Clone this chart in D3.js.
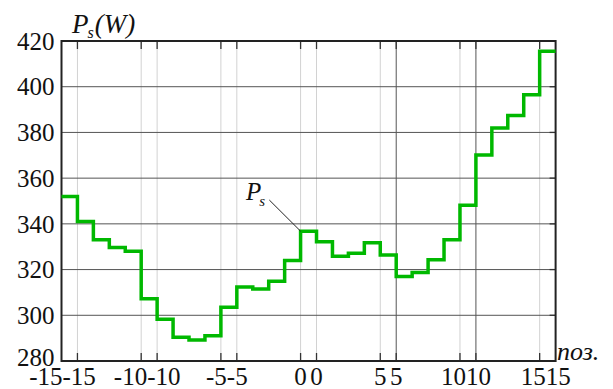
<!DOCTYPE html>
<html>
<head>
<meta charset="utf-8">
<script src="https://cdn.jsdelivr.net/npm/d3@7"></script>
<style>
  body { margin: 0; background: #fff; }
</style>
</head>
<body>
<svg id="chart" width="613" height="389"></svg>
<script>
// positions along the track and the stepped power values
const positions = [-15, -14, -13, -12, -11, -10, -9, -8, -7, -6, -5, -4, -3, -2, -1,
  0, 1, 2, 3, 4, 5, 6, 7, 8, 9, 10, 11, 12, 13, 14, 15]
const power = [352, 341, 333, 329.7, 328, 307.2, 298.3, 290.4, 289.2, 291, 303.5,
  312.4, 311.5, 314.9, 324, 336.8, 332.2, 325.8, 327.1, 331.7, 326.4, 317, 318.7,
  324.3, 333, 348.1, 370.1, 381.9, 387.4, 396.5, 415.5]
const xTicks = [-15, -10, -5, 0, 5, 10, 15]
const yTicks = [280, 300, 320, 340, 360, 380, 400, 420]

const FONT = "'Liberation Serif', 'DejaVu Serif', 'Times New Roman', serif"

const margin = { top: 41, right: 57.4, bottom: 28, left: 61.5 }
const W = 613, H = 389
const width = W - margin.left - margin.right
const height = H - margin.top - margin.bottom

const svg = d3.select('#chart')
const g = svg.append('g')
  .attr('transform', 'translate(' + margin.left + ',' + margin.top + ')')

// two overlaid x axes, one unit apart (light grid / dark grid)
const xL = d3.scaleLinear().domain([-15, 16]).range([0, width])
const xD = d3.scaleLinear().domain([-16, 15]).range([0, width])
const y = d3.scaleLinear().domain([280, 420]).range([height, 0])

// vertical grid
const vLines = []
xTicks.forEach(t => {
  vLines.push({ x: xL(t), dark: false })
  vLines.push({ x: xD(t), dark: t === 5 || t === 10 })
})
const inner = vLines.filter(d => d.x > 1 && d.x < width - 1)
g.selectAll('.vgrid')
  .data(inner)
  .enter().append('line')
  .attr('x1', d => d.x).attr('x2', d => d.x)
  .attr('y1', 0).attr('y2', height)
  .attr('stroke', d => d.dark ? '#555' : '#d2d2d2')
  .attr('stroke-width', 1)

// horizontal grid
g.selectAll('.hgrid')
  .data(yTicks.slice(1, -1))
  .enter().append('line')
  .attr('x1', 0).attr('x2', width)
  .attr('y1', d => y(d)).attr('y2', d => y(d))
  .attr('stroke', '#555')
  .attr('stroke-width', 1)

// small ticks on top / bottom / right edges
g.selectAll('.ttop')
  .data(inner)
  .enter().append('line')
  .attr('x1', d => d.x).attr('x2', d => d.x)
  .attr('y1', 0).attr('y2', 8)
  .attr('stroke', '#333').attr('stroke-width', 1.3)
g.selectAll('.tbot')
  .data(inner)
  .enter().append('line')
  .attr('x1', d => d.x).attr('x2', d => d.x)
  .attr('y1', height - 8).attr('y2', height)
  .attr('stroke', '#333').attr('stroke-width', 1.3)
g.selectAll('.tright')
  .data(yTicks.slice(1, -1))
  .enter().append('line')
  .attr('x1', width - 6).attr('x2', width)
  .attr('y1', d => y(d)).attr('y2', d => y(d))
  .attr('stroke', '#333').attr('stroke-width', 1.3)

// frame
g.append('rect')
  .attr('x', 0).attr('y', 0)
  .attr('width', width).attr('height', height)
  .attr('fill', 'none')
  .attr('stroke', '#222')
  .attr('stroke-width', 2)

// stepped line
const stepData = positions.map((p, i) => [p, power[i]])
stepData.push([positions[positions.length - 1] + 1, power[power.length - 1]])
const line = d3.line()
  .x(d => xL(d[0]))
  .y(d => y(d[1]))
  .curve(d3.curveStepAfter)
g.append('path')
  .datum(stepData)
  .attr('d', line)
  .attr('fill', 'none')
  .attr('stroke', '#00b800')
  .attr('stroke-width', 3.5)

// y labels
g.selectAll('.ylab')
  .data(yTicks)
  .enter().append('text')
  .attr('font-family', FONT)
  .attr('fill', '#111')
  .attr('x', -7)
  .attr('y', d => y(d) + (d === 280 ? 4.5 : 8.7))
  .attr('text-anchor', 'end')
  .attr('font-size', 25)
  .text(d => d)

// x labels, pushed apart where the pairs collide
xTicks.forEach(t => {
  const a = g.append('text')
    .attr('font-family', FONT).attr('fill', '#111')
    .attr('x', xL(t)).attr('y', height + 24)
    .attr('text-anchor', 'middle').attr('font-size', 25)
    .text(t)
  const b = g.append('text')
    .attr('font-family', FONT).attr('fill', '#111')
    .attr('x', xD(t)).attr('y', height + 24)
    .attr('text-anchor', 'middle').attr('font-size', 25)
    .text(t)
  const wa = a.node().getComputedTextLength()
  const wb = b.node().getComputedTextLength()
  if (xL(t) + wa / 2 > xD(t) - wb / 2 - 3) {
    const mid = (xL(t) + xD(t)) / 2 - (t === -15 ? 7 : 2)
    a.attr('x', mid).attr('text-anchor', 'end')
    b.attr('x', mid).attr('text-anchor', 'start')
  }
})

// axis titles
const yt = svg.append('text').attr('font-family', FONT).attr('fill', '#111')
  .attr('x', 72).attr('y', 33).attr('font-size', 27).attr('font-style', 'italic')
yt.append('tspan').text('P')
yt.append('tspan').attr('font-size', 16).attr('dy', 5).attr('dx', -1).text('s')
yt.append('tspan').attr('dy', -5).attr('dx', 1).text('(W)')

svg.append('text')
  .attr('font-family', FONT).attr('fill', '#111')
  .attr('x', 557).attr('y', 360)
  .attr('font-size', 26).attr('font-style', 'italic')
  .text('поз.')

// annotation
const zeroIdx = positions.indexOf(0)
const ax = margin.left + xL(0), ay = margin.top + y(power[zeroIdx])
svg.append('line')
  .attr('x1', 269.3).attr('y1', 200)
  .attr('x2', ax).attr('y2', ay)
  .attr('stroke', '#222').attr('stroke-width', 1)
const an = svg.append('text').attr('font-family', FONT).attr('fill', '#111')
  .attr('x', 246).attr('y', 200).attr('font-size', 25).attr('font-style', 'italic')
an.append('tspan').text('P')
an.append('tspan').attr('font-size', 15).attr('dy', 6).attr('dx', -2).text('s')
</script>
</body>
</html>
